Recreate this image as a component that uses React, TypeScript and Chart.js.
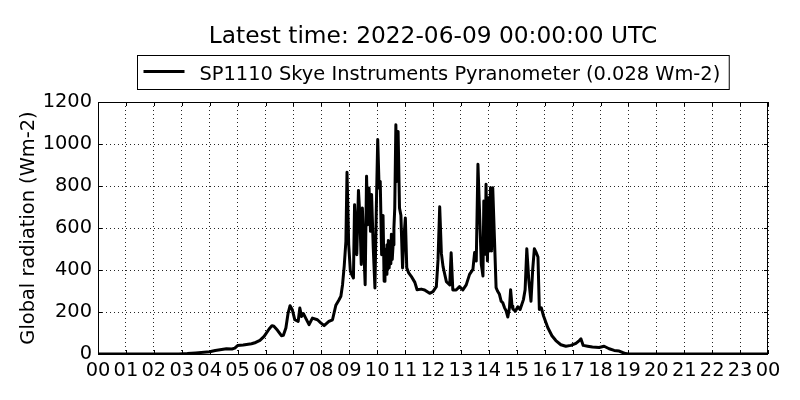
import { useEffect, useRef } from "react"
import Chart from "chart.js/auto"

// hours since 00:00 UTC and the pyranometer reading at that time
const hours = [
  0, 2.9, 3.2, 3.5, 4.0, 4.2, 4.6, 4.8, 4.9, 5.0, 5.2, 5.5, 5.65, 5.8, 5.95,
  6.13, 6.23, 6.3, 6.43, 6.57, 6.64, 6.73, 6.81, 6.88, 6.96, 7.05, 7.17, 7.23,
  7.29, 7.36, 7.44, 7.56, 7.68, 7.86, 7.98, 8.1, 8.27, 8.4, 8.52, 8.62, 8.7,
  8.76, 8.82, 8.88, 8.92, 8.98, 9.04, 9.09, 9.15, 9.19, 9.24, 9.27, 9.33, 9.38,
  9.43, 9.47, 9.52, 9.57, 9.62, 9.66, 9.71, 9.76, 9.8, 9.86, 9.92, 9.97, 10.02,
  10.07, 10.11, 10.16, 10.21, 10.25, 10.28, 10.32, 10.35, 10.37, 10.4, 10.43,
  10.46, 10.49, 10.51, 10.54, 10.57, 10.6, 10.63, 10.67, 10.7, 10.75, 10.8,
  10.85, 10.91, 10.95, 11.01, 11.06, 11.13,
  11.22, 11.35, 11.43, 11.58, 11.7, 11.88, 12.0, 12.12, 12.18, 12.24, 12.3,
  12.36, 12.48, 12.6, 12.65, 12.71, 12.83, 12.95, 13.07, 13.19, 13.31, 13.43,
  13.49, 13.55, 13.61, 13.67, 13.73, 13.79, 13.82, 13.87, 13.9, 13.95, 13.99,
  14.02, 14.06, 14.1, 14.14, 14.2, 14.26, 14.31, 14.38, 14.44, 14.5, 14.56,
  14.62, 14.68, 14.74, 14.78, 14.83, 14.86, 14.95, 15.04, 15.12, 15.24, 15.3,
  15.36, 15.43, 15.51, 15.57, 15.63, 15.69, 15.76, 15.81, 15.88, 15.96, 16.11,
  16.26, 16.4, 16.58, 16.76, 16.94, 17.12, 17.24, 17.3, 17.38, 17.54, 17.71,
  17.95, 18.13, 18.31, 18.49, 18.67, 18.81, 18.9, 19.0, 24,
]
const radiation = [
  0, 0, 2, 5, 11, 17, 25, 24, 28, 40, 43, 49, 55, 65, 84,
  119, 135, 132, 113, 87, 89, 124, 195, 230, 211, 163, 155, 219,
  179, 192, 171, 140, 171, 163, 148, 135, 155, 163, 232, 255, 275,
  330, 420, 537, 865, 521, 394, 378, 362, 711, 568, 473, 779, 660,
  426, 695, 505, 330, 846, 616, 790, 584, 759, 505, 314, 695, 1021,
  790, 822, 473, 660, 346, 500, 380, 520, 400, 540, 410,
  500, 430, 570, 450, 520, 600, 695, 1092, 822, 1060, 695,
  660, 410, 537, 648, 410, 386,
  370, 341, 306, 309, 305, 289, 297, 321, 448, 701, 479,
  416, 344, 329, 482, 305, 305, 321, 305, 329, 379, 403,
  483, 443, 903, 665, 427, 371, 729, 475, 808, 443, 744,
  491, 792, 491, 792, 554, 316, 300, 284, 252, 244, 221,
  205, 176, 221, 306, 229, 215, 204, 225, 212, 259, 306,
  501, 353, 251, 399, 501, 485, 462, 212, 220, 181, 126,
  87, 64, 44, 37, 41, 51, 64, 72, 41, 37, 33,
  31, 37, 25, 17, 14, 6, 2, 0, 0,
]
const hourLabels = [
  "00", "01", "02", "03", "04", "05", "06", "07", "08", "09", "10", "11", "12",
  "13", "14", "15", "16", "17", "18", "19", "20", "21", "22", "23", "00",
]
const yTicks = [0, 200, 400, 600, 800, 1000, 1200]

const titleText = "Latest time: 2022-06-09 00:00:00 UTC"
const seriesLabel = "SP1110 Skye Instruments Pyranometer (0.028 Wm-2)"
const yTitle = "Global radiation (Wm-2)"

const FONT = "DejaVu Sans"

// title, boxed legend, solid frame and inward ticks (matplotlib classic look)
const decorPlugin = {
  id: "decor",
  afterDraw(chart: Chart) {
    const { ctx, chartArea } = chart
    const { left, right, top, bottom } = chartArea
    const xs = chart.scales.x
    const ys = chart.scales.y
    ctx.save()

    // frame
    ctx.strokeStyle = "#000"
    ctx.lineWidth = 1
    ctx.setLineDash([])
    ctx.strokeRect(left + 0.5, top + 0.5, right - left - 1, bottom - top)

    // inward ticks on all sides
    ctx.beginPath()
    for (let i = 0; i < hourLabels.length; i++) {
      const px = Math.round(xs.getPixelForValue(i)) + 0.5
      ctx.moveTo(px, bottom)
      ctx.lineTo(px, bottom - 4)
      ctx.moveTo(px, top)
      ctx.lineTo(px, top + 4)
    }
    yTicks.forEach((v) => {
      const py = Math.round(ys.getPixelForValue(v)) + 0.5
      ctx.moveTo(left, py)
      ctx.lineTo(left + 4, py)
      ctx.moveTo(right, py)
      ctx.lineTo(right - 4, py)
    })
    ctx.stroke()

    const cx = (left + right) / 2

    // title
    ctx.fillStyle = "#000"
    ctx.font = `23.3px "${FONT}"`
    ctx.textAlign = "center"
    ctx.textBaseline = "alphabetic"
    ctx.fillText(titleText, cx, 43)

    // legend
    ctx.font = `19.4px "${FONT}"`
    const tw = ctx.measureText(seriesLabel).width
    const boxW = 62 + tw + 9
    const boxL = Math.round(cx - boxW / 2) + 0.5
    ctx.fillStyle = "#fff"
    ctx.fillRect(boxL, 55.5, boxW, 34)
    ctx.strokeRect(boxL, 55.5, boxW, 34)
    ctx.beginPath()
    ctx.lineWidth = 3
    ctx.moveTo(boxL + 6, 71.5)
    ctx.lineTo(boxL + 47, 71.5)
    ctx.stroke()
    ctx.fillStyle = "#000"
    ctx.textAlign = "left"
    ctx.fillText(seriesLabel, boxL + 62, 79.5)

    ctx.restore()
  },
}

export default function App() {
  const chartRef = useRef<HTMLCanvasElement>(null)
  const chartInstance = useRef<Chart | null>(null)

  useEffect(() => {
    document.body.style.margin = "0"
    if (!chartRef.current) return

    if (chartInstance.current) {
      chartInstance.current.destroy()
    }

    const ctx = chartRef.current.getContext("2d")
    if (!ctx) return

    const points = hours.map((h, i) => ({ x: h, y: radiation[i] }))

    chartInstance.current = new Chart(ctx, {
      type: "line",
      data: {
        datasets: [{
          label: seriesLabel,
          data: points,
          borderColor: "#000",
          backgroundColor: "#000",
          borderWidth: 3,
          borderJoinStyle: "round",
          pointRadius: 0,
          tension: 0,
          fill: false,
        }]
      },
      options: {
        responsive: false,
        animation: false,
        devicePixelRatio: 1,
        layout: {
          padding: { top: 102, right: 32, left: 0, bottom: 0 }
        },
        plugins: {
          legend: { display: false },
          title: { display: false },
          tooltip: { enabled: false },
        },
        scales: {
          x: {
            type: "linear",
            min: 0,
            max: 24,
            afterFit: (scale: any) => { scale.height = 46 },
            afterBuildTicks: (scale: any) => {
              scale.ticks = hourLabels.map((_, i) => ({ value: i }))
            },
            ticks: {
              autoSkip: false,
              maxRotation: 0,
              padding: 5,
              color: "#000",
              font: { family: FONT, size: 19.4 },
              callback: (v: any) => hourLabels[v],
            },
            grid: {
              drawTicks: false,
              color: "rgba(0,0,0,0.85)",
              lineWidth: 1,
            },
            border: { display: false, dash: [1, 3] },
          },
          y: {
            min: 0,
            max: 1200,
            afterFit: (scale: any) => { scale.width = 98 },
            afterBuildTicks: (scale: any) => {
              scale.ticks = yTicks.map((v) => ({ value: v }))
            },
            ticks: {
              padding: 6,
              color: "#000",
              font: { family: FONT, size: 19.4 },
              callback: (v: any) => String(v),
            },
            grid: {
              drawTicks: false,
              color: "rgba(0,0,0,0.85)",
              lineWidth: 1,
            },
            border: { display: false, dash: [1, 3] },
            title: {
              display: true,
              text: yTitle,
              color: "#000",
              font: { family: FONT, size: 19.4 },
              padding: { top: 17, bottom: 0 },
            },
          },
        },
      },
      plugins: [decorPlugin],
    })

    return () => {
      if (chartInstance.current) {
        chartInstance.current.destroy()
        chartInstance.current = null
      }
    }
  }, [])

  return (
    <div style={{ width: 800, height: 400, background: "#fff" }}>
      <canvas ref={chartRef} width={800} height={400}></canvas>
    </div>
  )
}
